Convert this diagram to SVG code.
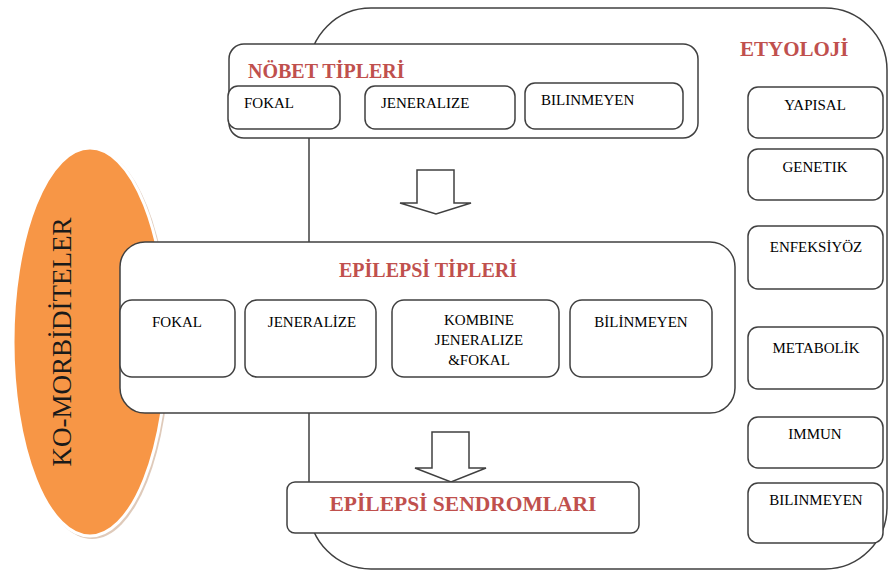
<svg xmlns="http://www.w3.org/2000/svg" width="889" height="573" viewBox="0 0 889 573">
<defs>
<style>
.box{fill:#fff;stroke:#404040;stroke-width:1.5}
.frame{fill:#fff;stroke:#404040;stroke-width:1.5}
.arrow{fill:#fff;stroke:#404040;stroke-width:1.5;stroke-linejoin:miter}
.t{font-family:"Liberation Serif","Times New Roman",serif;font-size:15px;fill:#000}
.tc{text-anchor:middle}
.h{font-family:"Liberation Serif","Times New Roman",serif;font-weight:bold;fill:#c0504d}
</style>
</defs>
<rect width="889" height="573" fill="#fff"/>
<g id="etyoloji-frame">
<rect class="frame" x="309" y="8" width="578" height="561" rx="62" ry="62"/>
<text class="h" x="740" y="56" font-size="21">ETYOLOJİ</text>
</g>
<g id="komorbiditeler">
<ellipse cx="92" cy="344" rx="78" ry="195" fill="#c9a68c" opacity="0.6"/>
<ellipse cx="90" cy="342" rx="77" ry="194" fill="#f79646" stroke="#fff" stroke-width="3"/>
<text transform="translate(71,342) rotate(-90)" text-anchor="middle" font-family="Liberation Serif, Times New Roman, serif" font-size="27" fill="#1a1a1a">KO-MORBİDİTELER</text>
</g>
<g id="nobet-tipleri">
<rect class="box" x="229" y="44" width="469" height="94" rx="15"/>
<text class="h" x="248" y="78" font-size="20">NÖBET TİPLERİ</text>
</g>
<g id="nobet-fokal">
<rect class="box" x="228" y="86" width="112" height="43" rx="10"/>
<text class="t" x="244" y="108">FOKAL</text>
</g>
<g id="nobet-jeneralize">
<rect class="box" x="365" y="86" width="150" height="43" rx="10"/>
<text class="t" x="381" y="108">JENERALIZE</text>
</g>
<g id="nobet-bilinmeyen">
<rect class="box" x="525" y="83" width="158" height="46" rx="10"/>
<text class="t" x="541" y="105">BILINMEYEN</text>
</g>
<g id="connectors">
<path class="arrow" d="M417,170 L454,170 L454,203 L471,203 L436,214 L400,203 L417,203 Z"/>
<path class="arrow" d="M432,432 L469,432 L469,468 L486,468 L451,482 L415,468 L432,468 Z"/>
</g>
<g id="epilepsi-tipleri">
<rect class="box" x="120" y="242" width="615" height="171" rx="25"/>
<text class="h tc" x="428" y="277" font-size="20">EPİLEPSİ TİPLERİ</text>
</g>
<g id="ep-fokal">
<rect class="box" x="120" y="300" width="115" height="77" rx="12"/>
<text class="t tc" x="177" y="327">FOKAL</text>
</g>
<g id="ep-jeneralize">
<rect class="box" x="245" y="300" width="131" height="77" rx="12"/>
<text class="t tc" x="312" y="327">JENERALİZE</text>
</g>
<g id="ep-kombine">
<rect class="box" x="392" y="300" width="167" height="77" rx="12"/>
<text class="t tc" x="479" y="325">KOMBINE</text>
<text class="t tc" x="479" y="345">JENERALIZE</text>
<text class="t tc" x="479" y="365">&amp;FOKAL</text>
</g>
<g id="ep-bilinmeyen">
<rect class="box" x="570" y="300" width="142" height="77" rx="12"/>
<text class="t tc" x="641" y="327">BİLİNMEYEN</text>
</g>
<g id="epilepsi-sendromlari">
<rect class="box" x="287" y="482" width="352" height="51" rx="8"/>
<text class="h tc" x="463" y="511" font-size="21.5">EPİLEPSİ SENDROMLARI</text>
</g>
<g id="et-yapisal">
<rect class="box" x="748" y="87" width="135" height="51" rx="10"/>
<text class="t tc" x="815" y="110">YAPISAL</text>
</g>
<g id="et-genetik">
<rect class="box" x="748" y="149" width="135" height="51" rx="10"/>
<text class="t tc" x="815" y="172">GENETIK</text>
</g>
<g id="et-enfeksiyoz">
<rect class="box" x="748" y="226" width="135" height="63" rx="10"/>
<text class="t tc" x="816" y="252">ENFEKSİYÖZ</text>
</g>
<g id="et-metabolik">
<rect class="box" x="748" y="327" width="135" height="62" rx="10"/>
<text class="t tc" x="816" y="353">METABOLİK</text>
</g>
<g id="et-immun">
<rect class="box" x="748" y="417" width="135" height="51" rx="10"/>
<text class="t tc" x="815" y="439">IMMUN</text>
</g>
<g id="et-bilinmeyen">
<rect class="box" x="748" y="483" width="135" height="60" rx="10"/>
<text class="t tc" x="816" y="505">BILINMEYEN</text>
</g>
</svg>
